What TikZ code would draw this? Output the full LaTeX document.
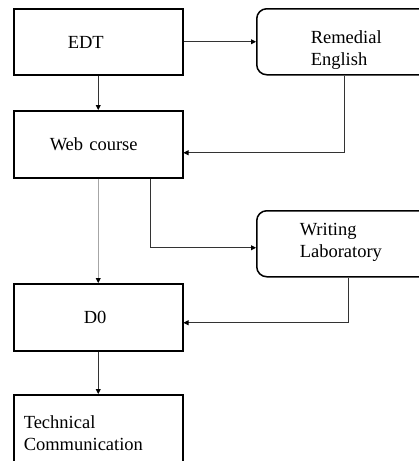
\documentclass[tikz,border=0pt]{standalone}
\usepackage{fontspec}
\setmainfont{Liberation Serif}
\usetikzlibrary{arrows.meta}

\begin{document}
\begin{tikzpicture}
[
	x=1pt, y=-1pt,
	font=\fontsize{18.5}{21.5}\selectfont,
	sqbox/.style={draw,line width=1.5pt,anchor=north west,inner ysep=0pt,align=left},
	rndbox/.style={sqbox,rounded corners=10pt},
	link/.style={-{Triangle[length=5pt,width=5pt,color=black]},line width=0.9pt,black!80}
]

	\useasboundingbox (0,0) rectangle (419,461);

	% boxes
	\node[sqbox, inner xsep=54pt, text width=61pt, text height=39.5pt, text depth=26.5pt] (edt) at (13,8) {EDT};
	\node[sqbox, inner xsep=36pt, text width=97pt, text height=40pt, text depth=27pt] (web) at (13,110) {Web course};
	\node[sqbox, inner xsep=70pt, text width=29pt, text height=40pt, text depth=27pt] (d0) at (13,283) {D0};
	\node[sqbox, inner xsep=10pt, text width=149pt, text height=34pt, text depth=33pt] (tech) at (13,394) {Technical\\Communication};
	\node[rndbox, inner xsep=54pt, text width=150pt, text height=35pt, text depth=31pt] (rem) at (256,8) {Remedial\\English};
	\node[rndbox, inner xsep=43pt, text width=150pt, text height=25pt, text depth=41pt] (lab) at (256,210) {Writing\\Laboratory};

	% arrows
	\draw[link] (edt.east) -- (edt.east -| rem.west);
	\draw[link] (edt.south) -- (web.north);
	\draw[link] ([xshift=88pt]rem.south west) |- ([yshift=-8.5pt]web.east);
	\draw[link, gray!70] (web.south) -- (d0.north);
	\draw[link] ([xshift=52.5pt]web.south) |- ([yshift=-4pt]lab.west);
	\draw[link] ([xshift=92pt]lab.south west) |- ([yshift=-5.5pt]d0.east);
	\draw[link] (d0.south) -- (tech.north);

\end{tikzpicture}
\end{document}
